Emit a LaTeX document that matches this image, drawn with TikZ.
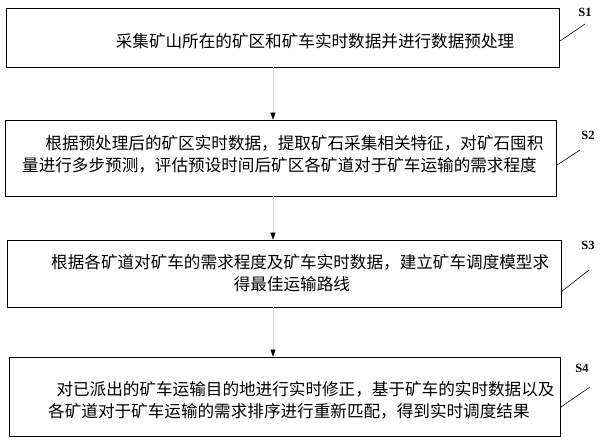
\documentclass[tikz,border=0pt]{standalone}
\usepackage{fontspec}
\setmainfont{Liberation Serif}
\newfontfamily\cjk{Noto Sans CJK SC}
\usetikzlibrary{arrows.meta}
\begin{document}
\begin{tikzpicture}[x=1pt,y=-1pt,
		stepbox/.style={draw,line width=0.8pt,inner sep=0pt},
		steptext/.style={font=\cjk\fontsize{16.6}{21.5}\selectfont,inner sep=0pt},
		flow/.style={line width=0.3pt,black!15,-{Triangle[black,length=7pt,width=5pt]}},
		lead/.style={line width=0.6pt},
		steplabel/.style={font=\bfseries\fontsize{12.5}{12.5}\selectfont,inner sep=0pt}]
		 \useasboundingbox (0,0) rectangle (600,442);
		 \node[stepbox,minimum width=553pt,minimum height=59pt] (b1) at (282.5,37.5) {};
		 \node[stepbox,minimum width=551pt,minimum height=76pt] (b2) at (280.5,158) {};
		 \node[stepbox,minimum width=554pt,minimum height=67pt] (b3) at (284,273.5) {};
		 \node[stepbox,minimum width=551pt,minimum height=79pt] (b4) at (284.5,396.5) {};
		 \node[steptext] (t1) at (315,41) {采集矿山所在的矿区和矿车实时数据并进行数据预处理};
		 \node[steptext,anchor=west,align=left] (t2) at (22,154.5) {\hspace*{1.4em}根据预处理后的矿区实时数据，提取矿石采集相关特征，对矿石囤积\\量进行多步预测，评估预设时间后矿区各矿道对于矿车运输的需求程度};
		 \node[steptext,anchor=west,align=left] (t3) at (51,273) {根据各矿道对矿车的需求程度及矿车实时数据，建立矿车调度模型求\\\hspace*{11em}得最佳运输路线};
		 \node[steptext,anchor=west,align=left] (t4) at (48,400.5) {\hspace*{0.5em}对已派出的矿车运输目的地进行实时修正，基于矿车的实时数据以及\\各矿道对于矿车运输的需求排序进行重新匹配，得到实时调度结果};
		 \coordinate (ax) at (273,0);
		 \draw[flow] (ax |- b1.south) -- (ax |- b2.north); \draw[flow] (ax |- b2.south) -- (ax |- b3.north); \draw[flow] (ax |- b3.south) -- (ax |- b4.north);
		 \node[steplabel] (s1) at (585,12) {S1}; \node[steplabel] (s2) at (588,135) {S2};
		 \node[steplabel] (s3) at (588,245) {S3}; \node[steplabel] (s4) at (582,368) {S4};
		 \coordinate (l1) at (560,41); \coordinate (e1) at (585,24); \draw[lead] (l1) -- (e1);
		 \coordinate (l2) at (557,165); \coordinate (e2) at (580,150); \draw[lead] (l2) -- (e2);
		 \coordinate (l3) at (561,292); \coordinate (e3) at (589,270); \draw[lead] (l3) -- (e3);
		 \coordinate (l4) at (561,407); \coordinate (e4) at (590,387); \draw[lead] (l4) -- (e4);
\end{tikzpicture}
\end{document}
